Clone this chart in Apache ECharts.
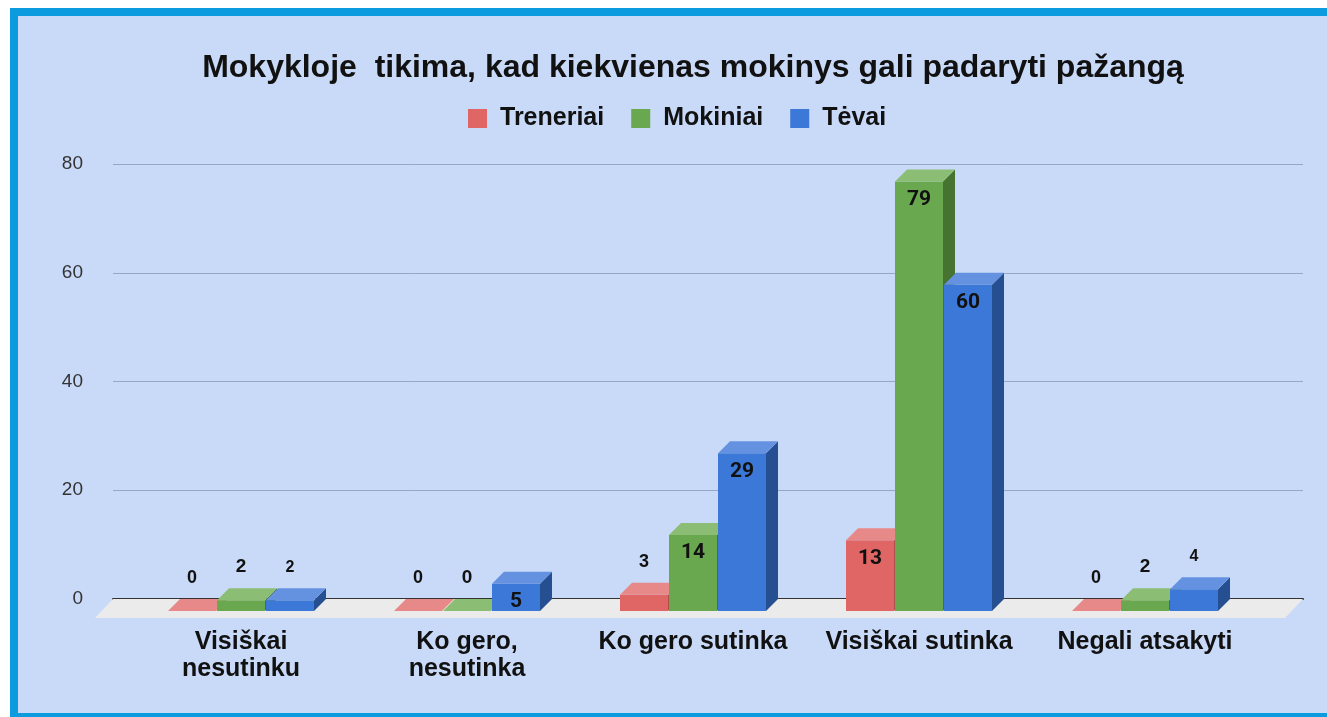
<!DOCTYPE html>
<html>
<head>
<meta charset="utf-8">
<script src="https://cdn.jsdelivr.net/npm/echarts@6/dist/echarts.min.js"></script>
<style>
  html, body { margin: 0; padding: 0; background: #fff; overflow: hidden; }
  #frame { position: absolute; left: 10px; top: 8px; width: 1340px; height: 713px; box-sizing: border-box;
           border: 8px solid #0d9be0; background: #c9daf8; }
  #main { position: absolute; left: 0; top: 0; width: 1327px; height: 717px; }
</style>
</head>
<body>
<div id="frame"></div>
<div id="main"></div>
<script>
var categories = ['Visiškai\nnesutinku', 'Ko gero,\nnesutinka', 'Ko gero sutinka', 'Visiškai sutinka', 'Negali atsakyti'];
var seriesNames = ['Treneriai', 'Mokiniai', 'Tėvai'];
var treneriai = [0, 0, 3, 13, 0];
var mokiniai = [2, 0, 14, 79, 2];
var tevai = [2, 5, 29, 60, 4];
var yTicks = [0, 20, 40, 60, 80];

// front / top / side shades for each series
var shades = [
  { front: '#e06666', top: '#e88989', side: '#b04e4e', above: 18 },
  { front: '#6aa84f', top: '#8cbd74', side: '#46732f', above: 19 },
  { front: '#3c78d8', top: '#6592e0', side: '#254f90', above: 16 }
];
var depth = 12, half = 24, step = 49;

function barRenderer(idx) {
  var c = shades[idx];
  var offset = (idx - 1) * step;
  return function (params, api) {
    var v = api.value(1);
    var base = api.coord([api.value(0), 0]);
    var top = api.coord([api.value(0), v]);
    var l = base[0] + offset - half, r = base[0] + offset + half;
    var yb = base[1], yt = top[1];
    var inside = v >= 5;
    return {
      type: 'group',
      children: [
        { type: 'rect', shape: { x: l, y: yt, width: r - l, height: yb - yt }, style: { fill: c.front } },
        { type: 'polygon', shape: { points: [[r, yt], [r + depth, yt - depth], [r + depth, yb - depth], [r, yb]] }, style: { fill: c.side } },
        { type: 'polygon', shape: { points: [[l, yt], [r, yt], [r + depth, yt - depth], [l + depth, yt - depth]] }, style: { fill: c.top } },
        {
          type: 'text', x: (l + r) / 2, y: inside ? yt + 18 : yt - 33,
          style: {
            text: String(v), fill: '#111', align: 'center', verticalAlign: 'middle',
            font: inside ? 'bold 21px Roboto' : 'bold ' + c.above + 'px "Liberation Sans", Arial'
          }
        }
      ]
    };
  };
}

function floorRenderer(params, api) {
  var a = api.coord([0, 0]), b = api.coord([1, 0]);
  return {
    type: 'polygon',
    shape: { points: [[a[0], a[1]], [b[0], b[1]], [b[0] - 18, b[1] + 19], [a[0] - 18, a[1] + 19]] },
    style: { fill: '#ebebeb' }
  };
}

var chart = echarts.init(document.getElementById('main'));
var values = [treneriai, mokiniai, tevai];
var series = [{
  type: 'custom', xAxisIndex: 0, yAxisIndex: 0, z: 1, silent: true,
  renderItem: floorRenderer, data: [[0, 0]]
}];
values.forEach(function (vals, i) {
  series.push({
    name: seriesNames[i], type: 'custom', xAxisIndex: 1, yAxisIndex: 1,
    itemStyle: { color: shades[i].front },
    renderItem: barRenderer(i),
    data: vals.map(function (v, k) { return [k, v]; })
  });
});

chart.setOption({
  backgroundColor: 'transparent',
  animation: false,
  title: {
    text: 'Mokykloje  tikima, kad kiekvienas mokinys gali padaryti pažangą',
    left: 688, top: 44, textAlign: 'center',
    textStyle: { fontFamily: '"Liberation Sans", Arial', fontSize: 32, fontWeight: 'bold', color: '#111', lineHeight: 38 }
  },
  legend: {
    data: seriesNames, left: 468, top: 106, padding: 0, icon: 'rect',
    itemWidth: 19, itemHeight: 19, itemGap: 27,
    textStyle: { fontFamily: '"Liberation Sans", Arial', fontSize: 25, fontWeight: 'bold', color: '#111', padding: [0, 0, 0, 8] }
  },
  grid: [
    { left: 113, right: 24, top: 164, bottom: 118 },
    { left: 128, right: 69, top: 176, bottom: 106 }
  ],
  xAxis: [
    {
      gridIndex: 0, type: 'value', min: 0, max: 1,
      axisLine: { show: true, onZero: false, lineStyle: { color: '#333', width: 2 } },
      axisTick: { show: false }, axisLabel: { show: false }, splitLine: { show: false }
    },
    {
      gridIndex: 1, type: 'category', data: categories,
      axisLine: { show: false }, axisTick: { show: false },
      axisLabel: {
        interval: 0, margin: 18, fontFamily: '"Liberation Sans", Arial', fontSize: 25,
        fontWeight: 'bold', color: '#111', lineHeight: 27
      }
    }
  ],
  yAxis: [
    {
      gridIndex: 0, type: 'value', min: yTicks[0], max: yTicks[yTicks.length - 1], interval: 20,
      axisLine: { show: false }, axisTick: { show: false },
      axisLabel: { margin: 30, fontFamily: '"Liberation Sans", Arial', fontSize: 19, color: '#333' },
      splitLine: { lineStyle: { color: '#97a6c4', width: 1 } }
    },
    { gridIndex: 1, type: 'value', min: 0, max: 80, show: false }
  ],
  series: series
});
</script>
</body>
</html>
